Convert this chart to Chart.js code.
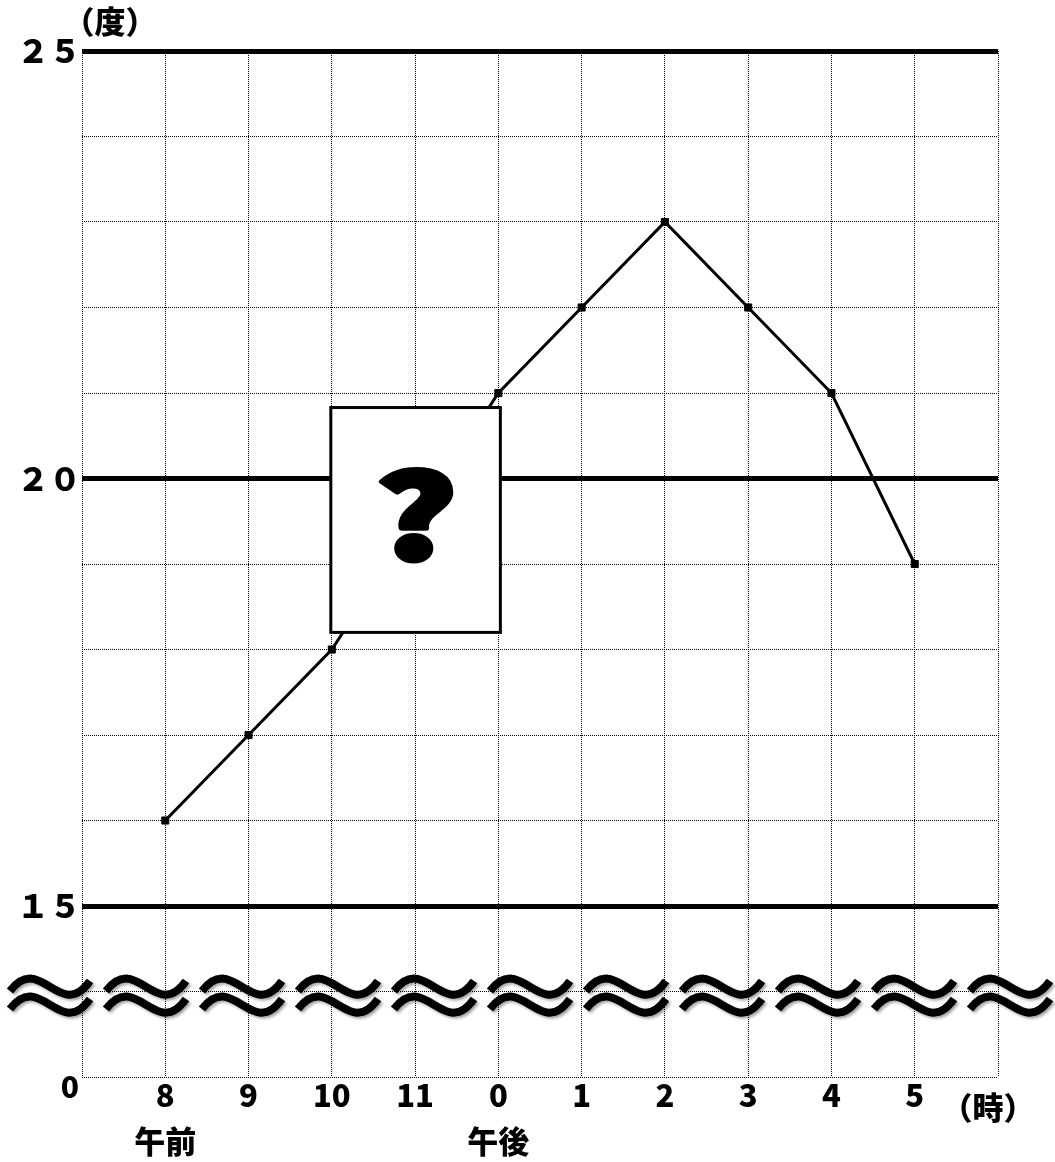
<!DOCTYPE html>
<html>
<head>
<meta charset="utf-8">
<script src="https://cdn.jsdelivr.net/npm/chart.js@4"></script>
<style>
body { margin: 0; background: #fff; }
#wrap { width: 1055px; height: 1162px; }
</style>
</head>
<body>
<div id="wrap"><canvas id="tempChart"></canvas></div>
<script>
let hours = ["", "8", "9", "10", "11", "0", "1", "2", "3", "4", "5", ""];
let halfDay = ["", "午前", "", "", "", "午後", "", "", "", "", "", ""];
// 11時 is hidden under the "?" card
let temps = [null, 16, 17, 18, null, 21, 22, 23, 22, 21, 19, null];
let yLabels = {25: "２５", 20: "２０", 15: "１５", 13: ["", "0\u200A"]};
let boldLines = [15, 20, 25];

const jp = '"Noto Sans CJK JP", "Noto Sans", sans-serif';

function fitText(ctx, text, cx, cy, w, h, font, stroke) {
    ctx.font = font;
    ctx.textAlign = "left";
    ctx.textBaseline = "alphabetic";
    const m = ctx.measureText(text);
    const tw = m.actualBoundingBoxLeft + m.actualBoundingBoxRight;
    const th = m.actualBoundingBoxAscent + m.actualBoundingBoxDescent;
    const sx = (w - stroke) / tw, sy = (h - stroke) / th;
    ctx.save();
    ctx.translate(cx, cy);
    ctx.scale(sx, sy);
    const tx = -tw / 2 + m.actualBoundingBoxLeft, ty = th / 2 - m.actualBoundingBoxDescent;
    ctx.fillText(text, tx, ty);
    if (stroke) {
        ctx.lineJoin = "round";
        ctx.lineWidth = stroke / Math.min(sx, sy);
        ctx.strokeStyle = ctx.fillStyle;
        ctx.strokeText(text, tx, ty);
    }
    ctx.restore();
}

// one break mark: two stacked wavy strokes
function wave(ctx, cx, cy) {
    for (const dy of [-9, 9]) {
        ctx.beginPath();
        ctx.moveTo(cx - 40, cy + dy + 4);
        ctx.bezierCurveTo(cx - 10, cy + dy - 36, cx + 10, cy + dy + 36, cx + 40, cy + dy - 6);
        ctx.stroke();
    }
}

const extras = {
    id: "extras",
    afterDraw(chart) {
        const {ctx, scales: {x, y}} = chart;
        ctx.save();
        ctx.fillStyle = "#000";
        ctx.font = "900 31px " + jp;
        ctx.textAlign = "center";
        ctx.textBaseline = "middle";
        ctx.fillText("（度）", 110, 21);
        ctx.fillText("（時）", 988, 1107);

        // break marks
        ctx.save();
        ctx.shadowColor = "rgba(0,0,0,0.35)";
        ctx.shadowBlur = 3;
        ctx.shadowOffsetX = 2;
        ctx.shadowOffsetY = 2;
        ctx.strokeStyle = "#000";
        ctx.lineWidth = 8;
        ctx.lineCap = "butt";
        for (let i = 0; i < 11; i++) {
            wave(ctx, 50 + 96 * i, 996);
        }
        ctx.restore();

        // the "?" card
        const left = x.getPixelForValue(3) - 1;
        const right = x.getPixelForValue(5) + 2;
        const top = y.getPixelForValue(20.83);
        const bottom = y.getPixelForValue(18.2);
        ctx.fillStyle = "#fff";
        ctx.fillRect(left, top, right - left, bottom - top);
        ctx.lineWidth = 3;
        ctx.strokeStyle = "#000";
        ctx.strokeRect(left, top, right - left, bottom - top);
        ctx.fillStyle = "#000";
        fitText(ctx, "?", (left + right) / 2, 514, 74, 97, "900 100px " + jp, 5);
        ctx.restore();
    }
};

new Chart("tempChart", {
    type: "line",
    data: {
        labels: hours.map((h, i) => halfDay[i] ? [h, halfDay[i]] : h),
        datasets: [{
            data: temps,
            borderColor: "#000",
            borderWidth: 3,
            pointStyle: "rect",
            pointRadius: 5,
            pointBackgroundColor: "#000",
            pointBorderColor: "#000",
            pointBorderWidth: 1,
            spanGaps: true,
            tension: 0
        }]
    },
    plugins: [extras],
    options: {
        responsive: true,
        maintainAspectRatio: false,
        animation: false,
        layout: {padding: {top: 51, right: 57, left: 0, bottom: 0}},
        plugins: {legend: {display: false}, tooltip: {enabled: false}},
        scales: {
            x: {
                offset: false,
                afterFit: s => { s.height = 85; },
                grid: {color: "#000", lineWidth: 1, drawTicks: false},
                border: {display: false, dash: [1, 1]},
                ticks: {
                    autoSkip: false,
                    maxRotation: 0,
                    padding: -5,
                    color: "#000",
                    font: {family: jp, size: 31, weight: "900", lineHeight: 46 / 31}
                }
            },
            y: {
                min: 13,
                max: 25,
                afterFit: s => { s.width = 82; },
                grid: {
                    color: "#000",
                    lineWidth: c => boldLines.includes(c.tick.value) ? 5 : 1,
                    drawTicks: false
                },
                border: {display: false, dash: c => boldLines.includes(c.tick.value) ? [] : [1, 1]},
                ticks: {
                    stepSize: 1,
                    padding: 1,
                    color: "#000",
                    callback: v => yLabels[v] || "",
                    font: c => c.tick && c.tick.value === 13
                        ? {family: jp, size: 30, weight: "900", lineHeight: "20px"}
                        : {family: jp, size: 32, weight: "900"}
                }
            }
        }
    }
});
</script>
</body>
</html>
